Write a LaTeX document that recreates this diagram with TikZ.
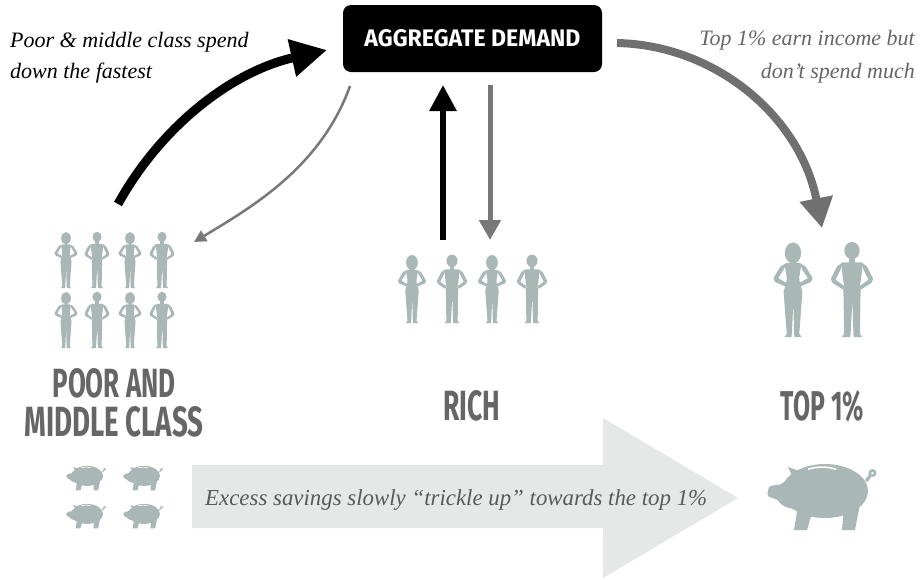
\documentclass[tikz,border=0pt]{standalone}
\usepackage{fontspec}
\newfontfamily\labelfont{Fira Sans}
\newfontfamily\itfont{Liberation Serif}
\usetikzlibrary{arrows.meta}
\definecolor{figc}{RGB}{169,184,183}
\definecolor{lblc}{RGB}{102,102,102}
\definecolor{arrg}{RGB}{120,120,120}
\definecolor{arrg2}{RGB}{112,112,112}
\definecolor{bigarr}{RGB}{230,231,231}
\definecolor{txtg}{RGB}{90,90,90}
\tikzset{
  man/.pic={
    \fill[figc] (0,-55) ellipse[x radius=4.9,y radius=5.5];
    \fill[figc] (-2,-51) rectangle (2,-46);
    \fill[figc,rounded corners=1.5] (-7,-47.5) -- (7,-47.5) -- (4.8,-30) -- (-4.8,-30) -- cycle;
    \foreach \s in {1,-1}{
      \fill[figc,xscale=\s,rounded corners=0.8] (6,-47.5) -- (9.5,-45) -- (13.5,-37) -- (12.5,-34.5) -- (5.3,-30) -- (5,-32.5) -- (10.5,-36.5) -- (7,-43.5) -- cycle;
    }
    \fill[figc] (-5.5,-31) -- (5.5,-31) -- (5,-2) -- (6.5,0) -- (1.2,0) -- (0.9,-2) -- (0.3,-24) -- (-0.9,-2) -- (-1.2,0) -- (-6.5,0) -- (-5,-2) -- cycle;
  },
  woman/.pic={
    \fill[figc] (0,-53.5) ellipse[x radius=5.2,y radius=6.7];
    \fill[figc] (-1.6,-50) rectangle (1.6,-45);
    \fill[figc,rounded corners=1.5] (-5.5,-47) -- (5.5,-47) -- (3.8,-37) -- (6.2,-28) -- (-6.2,-28) -- (-3.8,-37) -- cycle;
    \foreach \s in {1,-1}{
      \fill[figc,xscale=\s,rounded corners=0.8] (4.5,-47) -- (8,-45) -- (12.5,-37.5) -- (11.5,-35) -- (4.3,-32) -- (4.3,-34.5) -- (9.5,-37.5) -- (5.8,-43) -- cycle;
    }
    \fill[figc] (-6,-29) -- (6,-29) -- (4,-2) -- (5.5,0) -- (1,0) -- (0.7,-2) -- (0.2,-22) -- (-0.7,-2) -- (-1,0) -- (-5.5,0) -- (-4,-2) -- cycle;
  },
  pig/.pic={
    \fill[figc] (3,-3) ellipse[x radius=43,y radius=27];
    \fill[figc] (-26,0) ellipse[x radius=20,y radius=15];
    \fill[figc,rounded corners=2] (-38,-10) -- (-53,-8) -- (-55,2) -- (-36,9) -- cycle;
    \fill[figc] (-27,-12) -- (-34,-27) -- (-17,-21) -- cycle;
    \fill[figc] (-24,12) -- (-28,36) -- (-15,36) -- (-9,15) -- cycle;
    \fill[figc] (22,12) -- (20,36) -- (33,36) -- (38,10) -- cycle;
    \fill[figc] (43,-14) -- (47,-19.5) -- (49.5,-17.5) -- (45.5,-12) -- cycle;
    \fill[figc,even odd rule] (50.5,-21) circle[radius=4] (50.5,-21) circle[radius=1.6];
    \fill[white] (-14,-25.5) .. controls (-5,-28.5) and (5,-28.5) .. (14,-25.5) -- (14,-24) .. controls (5,-26.8) and (-5,-26.8) .. (-14,-24) -- cycle;
  },
  biglbl/.style={inner sep=0pt,anchor=base,text=lblc},
  itl/.style={inner sep=0pt,font=\itfont\fontsize{22}{26}\selectfont\itshape},
}
\begin{document}
\begin{tikzpicture}[x=1pt,y=-1pt]
\useasboundingbox (0,0) rectangle (922,579);

% big trickle arrow
\fill[bigarr] (192,465) -- (603,465) -- (603,418) -- (738,498) -- (603,578) -- (603,528) -- (192,528) -- cycle;
\node[itl,anchor=base west,text=txtg] (sav) at (205,505) {\resizebox{502pt}{!}{Excess savings slowly “trickle up” towards the top 1\%}};

% aggregate demand box
\node[fill=black,rounded corners=8pt,minimum width=259pt,minimum height=67pt,inner sep=0pt,text=white] (ad) at (472.5,38.5) {\resizebox{216pt}{17pt}{\labelfont\bfseries AGGREGATE DEMAND}};

% texts
\node[itl,anchor=base west] (l1) at (10,47) {Poor \& middle class spend};
\node[itl,anchor=base west] (l2) at (10,78) {down the fastest};
\node[itl,anchor=base east,text=lblc] (r1) at (915,45) {Top 1\% earn income but};
\node[itl,anchor=base east,text=lblc] (r2) at (915,78) {don’t spend much};

% group labels
\node[biglbl] (pm1) at (114,397) {\resizebox{123pt}{29pt}{\labelfont\bfseries POOR AND}};
\node[biglbl] (pm2) at (114,436) {\resizebox{179pt}{30pt}{\labelfont\bfseries MIDDLE CLASS}};
\node[biglbl] (rich) at (471.5,420) {\resizebox{57pt}{30pt}{\labelfont\bfseries RICH}};
\node[biglbl] (top) at (822.5,420) {\resizebox{83pt}{30pt}{\labelfont\bfseries TOP 1\%}};

% people
\foreach \y in {288,348}{
  \pic[scale=0.93] at (66,\y) {woman};
  \pic[scale=0.93] at (97,\y) {man};
  \pic[scale=0.93] at (130,\y) {woman};
  \pic[scale=0.93] at (162,\y) {man};
}
\pic[scale=1.13] at (412,323) {woman};
\pic[scale=1.13] at (452,323) {man};
\pic[scale=1.13] at (492,323) {woman};
\pic[scale=1.13] at (532,323) {man};
\pic[scale=1.57] at (793,337) {woman};
\pic[scale=1.57] at (852,337) {man};

% pigs
\pic[scale=0.37] at (86,477) {pig};
\pic[scale=0.37] at (143,477) {pig};
\pic[scale=0.37] at (86,515) {pig};
\pic[scale=0.37] at (143,515) {pig};
\pic at (822,494) {pig};

% connector ends
\coordinate (pmout) at (118,204);
\coordinate (adinL) at (327,50);
\coordinate (adoutL) at (350,86);
\coordinate (pmin) at (194,242);
\coordinate (richout) at (443,240);
\coordinate (adinM) at (443,85);
\coordinate (adoutM) at (490,85);
\coordinate (richin) at (490,240);
\coordinate (adoutR) at (617,43);
\coordinate (topin) at (822,228);

% arrows
\draw[line width=9pt,-{Triangle[length=36pt,width=36pt]}] (pmout) .. controls (160,128) and (230,72) .. (adinL);
\draw[arrg,line width=2.5pt,-{Triangle[length=12pt,width=12pt]}] (adoutL) .. controls (321,167) and (252,207) .. (pmin);
\draw[line width=6pt,-{Triangle[length=26pt,width=26pt]}] (richout) -- (adinM);
\draw[arrg,line width=5pt,-{Triangle[length=20pt,width=21pt]}] (adoutM) -- (richin);
\draw[arrg2,line width=8pt,-{Triangle[length=30pt,width=32pt]}] (adoutR) .. controls (715,45) and (800,116) .. (topin);
\end{tikzpicture}
\end{document}
